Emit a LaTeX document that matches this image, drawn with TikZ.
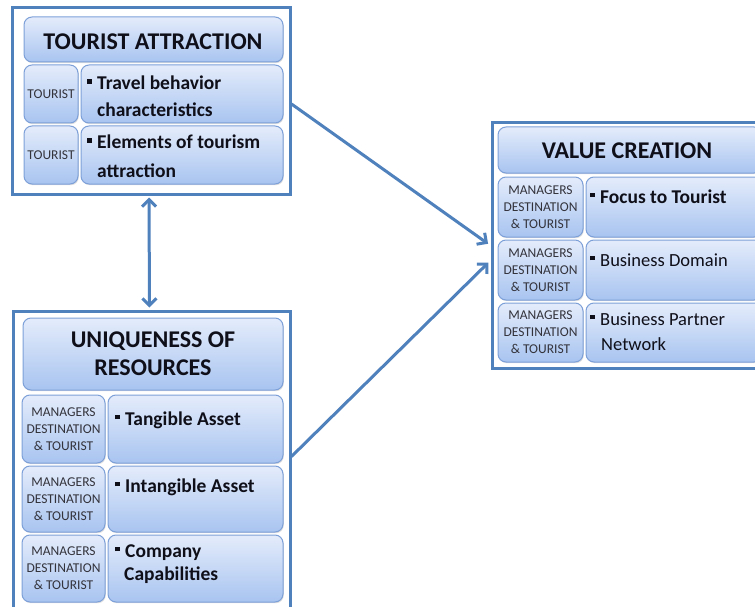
\documentclass[tikz,border=0pt]{standalone}
\usepackage{fontspec}
\setmainfont{Carlito}
\usetikzlibrary{arrows.meta,shadows,fit,calc}
\definecolor{frameblue}{RGB}{79,129,189}
\definecolor{boxtop}{RGB}{228,236,251}
\definecolor{boxbot}{RGB}{168,196,240}
\definecolor{boxline}{RGB}{125,160,216}
\definecolor{txt}{RGB}{15,15,25}
\tikzset{
  frame/.style={draw=frameblue, line width=3pt, inner sep=0pt},
  gbox/.style={rounded corners=8pt, draw=boxline, line width=1pt, top color=boxtop, bottom color=boxbot, inner sep=0pt,
    drop shadow={shadow xshift=0.8pt, shadow yshift=-1.2pt, opacity=0.25}},
  hdr/.style={font=\fontsize{24}{28}\selectfont\bfseries, text=txt, inner sep=0pt, anchor=base},
  body/.style={font=\fontsize{19.5}{28}\selectfont\bfseries, text=txt, inner sep=0pt, anchor=base west},
  bodyr/.style={body, font=\fontsize{18.5}{28}\selectfont},
  lbl/.style={font=\fontsize{13.5}{17}\selectfont, text=txt!85, align=center, inner sep=0pt},
  conn/.style={draw=frameblue, line width=3pt, -{Straight Barb[length=7pt,width=14pt]}},
}
\newcommand\gb[3]{\node[gbox, fit={#2 #3}] (#1) {};}
\newcommand\bul{\makebox[10pt][l]{\rule[6pt]{4.5pt}{4.5pt}}}
\begin{document}
\begin{tikzpicture}[x=1pt,y=-1pt]
\useasboundingbox (0,0) rectangle (755,607);
\clip (0,0) rectangle (755,607);
\fill[white] (0,0) rectangle (755,607);
% frames
\node[frame, fit={(12,8) (290,194)}] (ta) {};
\node[frame, fit={(492,123) (768,368)}] (vc) {};
\node[frame, fit={(13,311) (290,620)}] (ur) {};
% tourist attraction
\gb{tah}{(24,17)}{(283,62)}
\gb{tas1}{(24,65)}{(78,123)}
\gb{tab1}{(81,65)}{(283,123)}
\gb{tas2}{(24,126)}{(78,184)}
\gb{tab2}{(81,126)}{(283,184)}
\node[hdr] (taht) at (153,50) {TOURIST ATTRACTION};
\node[lbl] (tal1) at (tas1) {TOURIST};
\node[lbl] (tal2) at (tas2) {TOURIST};
\node[body] (tat1a) at (87,90) {\bul Travel behavior};
\node[body] (tat1b) at (97,117) {characteristics};
\node[body] (tat2a) at (87,149) {\bul Elements of tourism};
\node[body] (tat2b) at (97,177) {attraction};
% value creation
\gb{vch}{(498,127)}{(762,173)}
\gb{vcs1}{(498,177)}{(583,237)}
\gb{vcb1}{(586,177)}{(762,237)}
\gb{vcs2}{(498,240)}{(583,300)}
\gb{vcb2}{(586,240)}{(762,300)}
\gb{vcs3}{(498,303)}{(583,362)}
\gb{vcb3}{(586,303)}{(762,362)}
\node[hdr] (vcht) at (627,158) {VALUE CREATION};
\node[lbl] (vcl1) at (vcs1) {MANAGERS\\DESTINATION\\\& TOURIST};
\node[lbl] (vcl2) at (vcs2) {MANAGERS\\DESTINATION\\\& TOURIST};
\node[lbl] (vcl3) at (vcs3) {MANAGERS\\DESTINATION\\\& TOURIST};
\node[body] (vct1) at (590,203) {\bul Focus to Tourist};
\node[bodyr] (vct2) at (590,266) {\bul Business Domain};
\node[bodyr] (vct3a) at (590,325) {\bul Business Partner};
\node[bodyr] (vct3b) at (601,350) {Network};
% uniqueness
\gb{urh}{(23,318)}{(283,390)}
\gb{urs1}{(22,395)}{(105,463)}
\gb{urb1}{(108,395)}{(283,463)}
\gb{urs2}{(22,466)}{(105,532)}
\gb{urb2}{(108,466)}{(283,532)}
\gb{urs3}{(22,535)}{(105,602)}
\gb{urb3}{(108,535)}{(283,602)}
\node[hdr] (urht1) at (153,347) {UNIQUENESS OF};
\node[hdr] (urht2) at (153,375) {RESOURCES};
\node[lbl] (url1) at (urs1) {MANAGERS\\DESTINATION\\\& TOURIST};
\node[lbl] (url2) at (urs2) {MANAGERS\\DESTINATION\\\& TOURIST};
\node[lbl] (url3) at (urs3) {MANAGERS\\DESTINATION\\\& TOURIST};
\node[body] (urt1) at (115,425) {\bul Tangible Asset};
\node[body] (urt2) at (115,492) {\bul Intangible Asset};
\node[body] (urt3a) at (115,557) {\bul Company};
\node[body] (urt3b) at (124,580) {Capabilities};
% connectors
\draw[conn, {Straight Barb[length=7pt,width=14pt]}-{Straight Barb[length=7pt,width=14pt]}, shorten <=2pt, shorten >=2pt] ([xshift=-2pt]ta.south) -- ([xshift=-2pt]ur.north);
\draw[conn, shorten >=3pt] ([yshift=-3pt]ta.east) -- (vc.west);
\draw[conn, shorten >=3pt] ($(ur.east)+(0,-9)$) -- ($(vc.west)+(0,15)$);
\end{tikzpicture}
\end{document}
